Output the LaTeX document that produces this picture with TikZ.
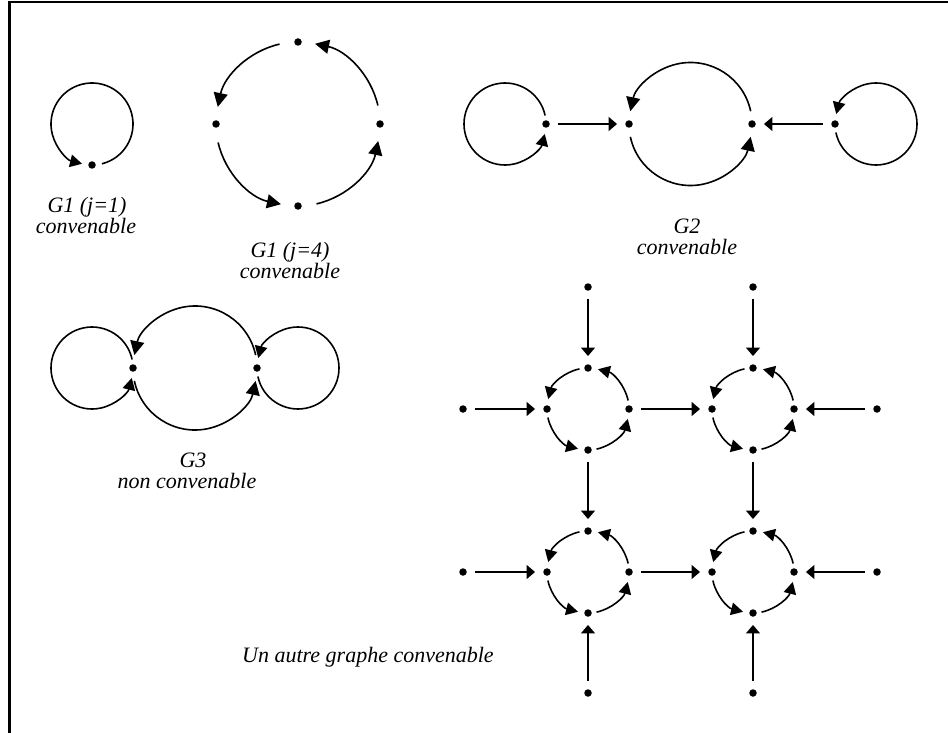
\documentclass[tikz,border=0pt]{standalone}
\usepackage{fontspec}
\setmainfont{Liberation Serif}
\usetikzlibrary{arrows.meta}
\tikzset{
  dot/.style={circle,fill=black,inner sep=0pt,minimum size=7.5pt},
  lbl/.style={font=\fontsize{22}{19}\selectfont\itshape, anchor=base, inner sep=0pt},
  arr/.style={line width=1.6pt, -{Triangle[length=8.5pt,width=14pt]}, shorten <=8pt, shorten >=8pt},
  carc/.style={line width=1.6pt, -{Triangle[length=12pt,width=12.5pt]}},
  barc/.style={line width=1.6pt, -{Triangle[length=14pt,width=14pt]}},
  frame/.style={line width=2.2pt}
}
\begin{document}
\begin{tikzpicture}[x=1pt,y=1pt]
\useasboundingbox (0,0) rectangle (948,-733);
\draw[frame] (9.5,-733) -- (9.5,-2) -- (948,-2);

% ---------- G1 (j=1)
\coordinate (Ac) at (92,-124);
\node[dot] (A) at (92,-165) {};
\draw[carc] ([shift={(-76:41pt)}]Ac) arc[start angle=-76, end angle=256, radius=41pt];
\node[lbl] (lA1) at (87,-212.5) {G1 (j=1)};
\node[lbl] (lA2) at (86,-233.5) {convenable};

% ---------- G1 (j=4)
\coordinate (Bc) at (298,-124);
\node[dot] (BT) at (298,-42) {};
\node[dot] (BL) at (216,-124) {};
\node[dot] (BB) at (298,-206) {};
\node[dot] (BR) at (380,-124) {};
\draw[barc] ([shift={(103:82pt)}]Bc) arc[start angle=103, end angle=168, radius=82pt];
\draw[barc] ([shift={(193:82pt)}]Bc) arc[start angle=193, end angle=258, radius=82pt];
\draw[barc] ([shift={(283:82pt)}]Bc) arc[start angle=283, end angle=348, radius=82pt];
\draw[barc] ([shift={(13:82pt)}]Bc) arc[start angle=13, end angle=78, radius=82pt];
\node[lbl] (lB1) at (290,-257.5) {G1 (j=4)};
\node[lbl] (lB2) at (290,-278.5) {convenable};

% ---------- G2
\coordinate (C1c) at (505,-124);
\coordinate (C2c) at (690.5,-124);
\coordinate (C3c) at (876,-124);
\node[dot] (P1) at (546,-124) {};
\node[dot] (Q1) at (629,-124) {};
\node[dot] (Q2) at (752,-124) {};
\node[dot] (P2) at (835,-124) {};
\draw[carc] ([shift={(12:41pt)}]C1c) arc[start angle=12, end angle=346, radius=41pt];
\draw[carc] ([shift={(192:41pt)}]C3c) arc[start angle=192, end angle=526, radius=41pt];
\draw[barc] ([shift={(12:61.5pt)}]C2c) arc[start angle=12, end angle=168, radius=61.5pt];
\draw[barc] ([shift={(192:61.5pt)}]C2c) arc[start angle=192, end angle=348, radius=61.5pt];
\draw[arr] (P1) -- (Q1);
\draw[arr] (P2) -- (Q2);
\node[lbl] (lC1) at (687,-233.5) {G2};
\node[lbl] (lC2) at (687,-254.5) {convenable};

% ---------- G3
\coordinate (D1c) at (92,-368);
\coordinate (D2c) at (195,-368);
\coordinate (D3c) at (298,-368);
\node[dot] (R1) at (133,-368) {};
\node[dot] (R2) at (257,-368) {};
\draw[carc] ([shift={(12:41pt)}]D1c) arc[start angle=12, end angle=346, radius=41pt];
\draw[carc] ([shift={(192:41pt)}]D3c) arc[start angle=192, end angle=526, radius=41pt];
\draw[barc] ([shift={(12:62pt)}]D2c) arc[start angle=12, end angle=168, radius=62pt];
\draw[barc] ([shift={(192:62pt)}]D2c) arc[start angle=192, end angle=348, radius=62pt];
\node[lbl] (lD1) at (193,-467) {G3};
\node[lbl] (lD2) at (187,-488) {non convenable};

% ---------- grid
\foreach \i/\cx/\cy in {a/588/-409, b/753/-409, c/588/-572, d/753/-572} {
  \coordinate (\i c) at (\cx,\cy);
  \node[dot] (\i N) at (\cx,\cy+41) {};
  \node[dot] (\i W) at (\cx-41,\cy) {};
  \node[dot] (\i S) at (\cx,\cy-41) {};
  \node[dot] (\i E) at (\cx+41,\cy) {};
  \draw[carc] ([shift={(102:41pt)}]\i c) arc[start angle=102, end angle=166, radius=41pt];
  \draw[carc] ([shift={(192:41pt)}]\i c) arc[start angle=192, end angle=256, radius=41pt];
  \draw[carc] ([shift={(282:41pt)}]\i c) arc[start angle=282, end angle=346, radius=41pt];
  \draw[carc] ([shift={(12:41pt)}]\i c) arc[start angle=12, end angle=76, radius=41pt];
}
\node[dot] (ta) at (588,-287) {};
\node[dot] (tb) at (753,-287) {};
\node[dot] (la) at (463,-409) {};
\node[dot] (lc) at (463,-572) {};
\node[dot] (rb) at (877,-409) {};
\node[dot] (rd) at (877,-572) {};
\node[dot] (bc) at (588,-693) {};
\node[dot] (bd) at (753,-693) {};
\draw[arr] (ta) -- (aN);
\draw[arr] (tb) -- (bN);
\draw[arr] (la) -- (aW);
\draw[arr] (aE) -- (bW);
\draw[arr] (rb) -- (bE);
\draw[arr] (aS) -- (cN);
\draw[arr] (bS) -- (dN);
\draw[arr] (lc) -- (cW);
\draw[arr] (cE) -- (dW);
\draw[arr] (rd) -- (dE);
\draw[arr] (bc) -- (cS);
\draw[arr] (bd) -- (dS);
\node[lbl] (lE) at (368,-662) {Un autre graphe convenable};
\end{tikzpicture}
\end{document}
